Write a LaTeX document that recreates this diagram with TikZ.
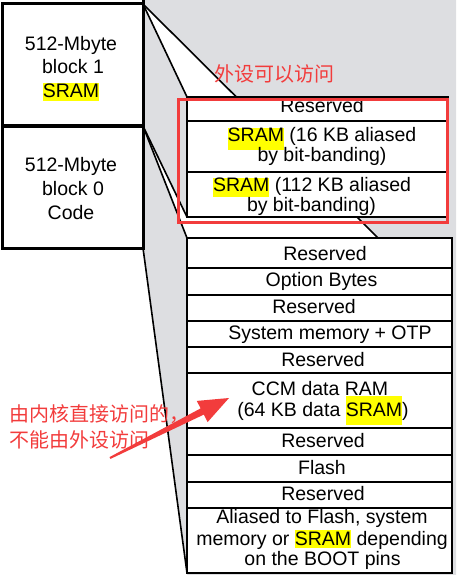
\documentclass[tikz,border=0pt]{standalone}
\usepackage{fontspec}
\setmainfont{Liberation Sans}
\newfontfamily\cjk{Noto Sans CJK SC}
\definecolor{bggray}{RGB}{221,222,225}
\definecolor{annot}{RGB}{242,60,60}
\definecolor{hly}{RGB}{255,255,0}
\newcommand\hlt[3]{{\setlength{\fboxsep}{0pt}\colorbox{hly}{\rule[-#2pt]{0pt}{\dimexpr #1pt+#2pt\relax}#3}}}
\tikzset{
  blockbox/.style={draw, line width=3pt, fill=white, inner sep=0pt, outer sep=0pt, anchor=north west},
  rowbox/.style={draw, line width=2.8pt, fill=white, inner sep=0pt, outer sep=0pt, anchor=north west, minimum width=265pt},
  uprow/.style={rowbox, minimum width=261pt},
  redbox/.style={draw=annot, line width=3pt, inner sep=0pt, outer sep=0pt, anchor=north west},
  funnel/.style={line width=1.6pt, black},
  lbl/.style={font=\fontsize{19.5}{23.5}\selectfont, anchor=base, inner sep=0pt, text=black},
  note/.style={font=\cjk\fontsize{20}{24}\selectfont, text=annot, inner sep=0pt}
}
\begin{document}
\begin{tikzpicture}[x=1pt,y=-1pt]
\useasboundingbox (0,0) rectangle (456,575);
% gray background
\fill[bggray] (143,0) -- (456,0) -- (456,575) -- (187.3,575) -- (143,248) -- cycle;
% white funnel area
\fill[white] (143,4) -- (378,238) -- (187,238) -- (143,126) -- (187,217) -- (187,97) -- cycle;

% left blocks
\node[blockbox, minimum width=141pt, minimum height=122pt] (blk1) at (2,4) {};
\node[blockbox, minimum width=141pt, minimum height=122pt] (blk0) at (2,126) {};
\coordinate (topc) at (143,0);
\draw[line width=3pt] (blk1.north east) -- (topc);

% coordinates for funnel lines
\coordinate (cEnd) at (378,238);

% guide nodes for funnel end points
\node[uprow, minimum height=24pt, fill=none, draw=none] (u1g) at (187,97) {};
\node[uprow, minimum height=45pt, fill=none, draw=none] (u3g) at (187,172) {};
\node[rowbox, minimum height=30pt, fill=none, draw=none] (l1g) at (187,238) {};
\node[rowbox, minimum height=65pt, fill=none, draw=none] (l10g) at (187,508) {};

\draw[funnel] (blk1.north east) -- (cEnd);
\draw[funnel] (blk1.north east) -- (u1g.north west);
\draw[funnel] (blk1.south east) -- (u3g.south west);
\draw[funnel] (blk0.north east) -- (l1g.north west);
\draw[funnel] (blk0.south east) -- (l10g.south west);

% upper box rows
\node[uprow, minimum height=24pt] (u1) at (187,97) {};
\node[uprow, minimum height=51pt] (u2) at (187,121) {};
\node[uprow, minimum height=45pt] (u3) at (187,172) {};

% lower box rows
\node[rowbox, minimum height=30pt] (l1) at (187,238) {};
\node[rowbox, minimum height=27pt] (l2) at (187,268) {};
\node[rowbox, minimum height=26pt] (l3) at (187,295) {};
\node[rowbox, minimum height=26pt] (l4) at (187,321) {};
\node[rowbox, minimum height=26pt] (l5) at (187,347) {};
\node[rowbox, minimum height=55pt] (l6) at (187,373) {};
\node[rowbox, minimum height=27pt] (l7) at (187,428) {};
\node[rowbox, minimum height=27pt] (l8) at (187,455) {};
\node[rowbox, minimum height=26pt] (l9) at (187,482) {};
\node[rowbox, minimum height=65pt] (l10) at (187,508) {};

% block texts
\node[lbl] (b1a) at (71,50.5) {512-Mbyte};
\node[lbl] (b1b) at (73,74) {block 1};
\node[lbl] (b1c) at (71,97.5) {\hlt{14}{4}{SRAM}};
\node[lbl] (b0a) at (71,171.5) {512-Mbyte};
\node[lbl] (b0b) at (73,195) {block 0};
\node[lbl] (b0c) at (71,219) {Code};

% upper box texts
\node[lbl] (t1) at (322,113) {Reserved};
\node[lbl] (t2a) at (322,141.7) {\hlt{14}{8}{SRAM} (16 KB aliased};
\node[lbl] (t2b) at (322,161.7) {by bit-banding)};
\node[lbl] (t3a) at (312,191.7) {\hlt{14}{5}{SRAM} (112 KB aliased};
\node[lbl] (t3b) at (311.5,211.7) {by bit-banding)};

% lower box texts
\node[lbl] (s1) at (325,260) {Reserved};
\node[lbl] (s2) at (321.5,286) {Option Bytes};
\node[lbl] (s3) at (314,313) {Reserved};
\node[lbl] (s4) at (330,339) {System memory + OTP};
\node[lbl] (s5) at (323,366) {Reserved};
\node[lbl] (s6a) at (320,395) {CCM data RAM};
\node[lbl] (s6b) at (323,416.5) {(64 KB data \hlt{21}{8}{SRAM})};
\node[lbl] (s7) at (323,447) {Reserved};
\node[lbl] (s8) at (322,474) {Flash};
\node[lbl] (s9) at (323,500) {Reserved};
\node[lbl] (s10a) at (322,523.5) {Aliased to Flash, system};
\node[lbl] (s10b) at (322,545) {memory or \hlt{15}{3}{SRAM} depending};
\node[lbl] (s10c) at (322.5,565.5) {on the BOOT pins};

% red annotation box
\node[redbox, minimum width=269pt, minimum height=122pt] (hlbox) at (178,100) {};

% red notes
\node[note] (n1) at (274,74) {外设可以访问};
\node[note, anchor=west] (n2) at (9,414) {由内核直接访问的，};
\node[note, anchor=west] (n3) at (9,440) {不能由外设访问};

% red arrow
\coordinate (atail1) at (109.5,457.1);
\coordinate (ashaft1) at (200.6,408.4);
\coordinate (ahead1) at (196.8,400.9);
\coordinate (atip) at (229,398);
\coordinate (ahead2) at (207.6,422.1);
\coordinate (ashaft2) at (203.8,414.6);
\coordinate (atail2) at (110.5,458.9);
\fill[annot] (atail1) -- (ashaft1) -- (ahead1) -- (atip) -- (ahead2) -- (ashaft2) -- (atail2) -- cycle;
\end{tikzpicture}
\end{document}
